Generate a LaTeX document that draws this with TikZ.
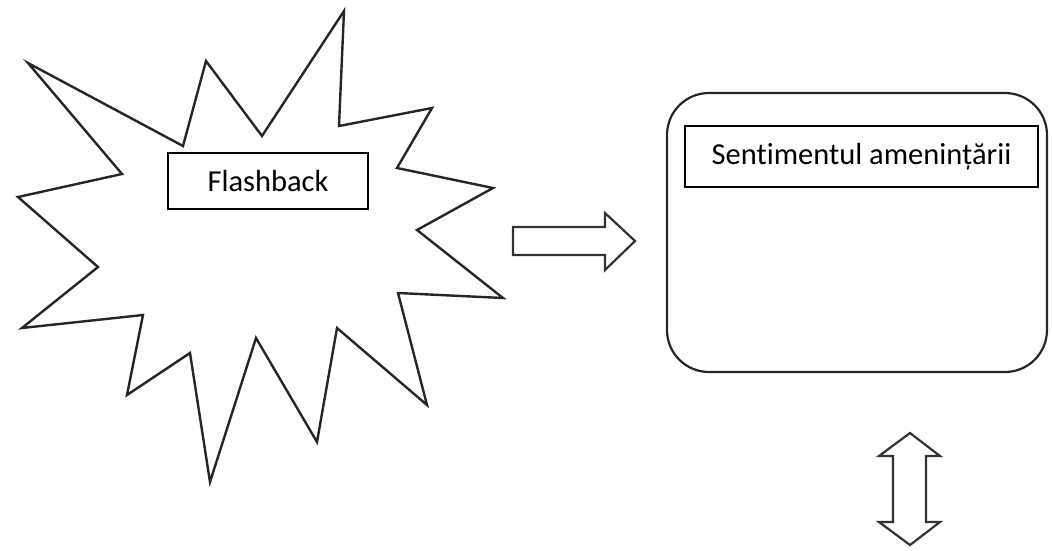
\documentclass[tikz,border=0pt]{standalone}
\usepackage{fontspec}
\setmainfont[Ligatures={NoCommon,NoRare,NoContextual}]{Carlito}
\begin{document}
\begin{tikzpicture}[x=1pt,y=-1pt,
  outline/.style={draw=black!85,line width=2.4pt,line join=miter},
  label box/.style={draw=black,line width=1.6pt,minimum height=56pt,font=\fontsize{30.5}{36}\selectfont,inner sep=0pt},
  block arrow/.style={draw=black!80,line width=2.2pt,line join=miter,fill=white}]
\useasboundingbox (0,0) rectangle (1052,550);
% starburst
\draw[outline] (28,63) -- (183,146) -- (206,61) -- (262,136) -- (344,11) -- (339,126)
  -- (432,108) -- (397,168) -- (493,188) -- (417,230) -- (503,298) -- (398,293)
  -- (427,405) -- (337,328) -- (317,442) -- (256,338) -- (210,482) -- (190,353)
  -- (127,395) -- (143,315) -- (22,328) -- (98,267) -- (18,197) -- (122,174) -- cycle;
\node[label box,minimum width=200pt] (flash) at (268,181) {Flashback};
% right block arrow
\draw[block arrow] (513,227) -- (605,227) -- (605,213) -- (635,241) -- (605,270)
  -- (605,255) -- (513,255) -- cycle;
% rounded container
\draw[outline,line width=2.2pt,rounded corners=42pt] (667,93) rectangle (1047,372);
\node[label box,minimum width=353pt,minimum height=61pt] (threat) at (861.5,156.5) {Sentimentul amenințării};
% double block arrow
\draw[block arrow] (910,433) -- (940,456) -- (926,456) -- (926,522) -- (940,522)
  -- (910,545) -- (879,522) -- (893,522) -- (893,456) -- (879,456) -- cycle;
\end{tikzpicture}
\end{document}
